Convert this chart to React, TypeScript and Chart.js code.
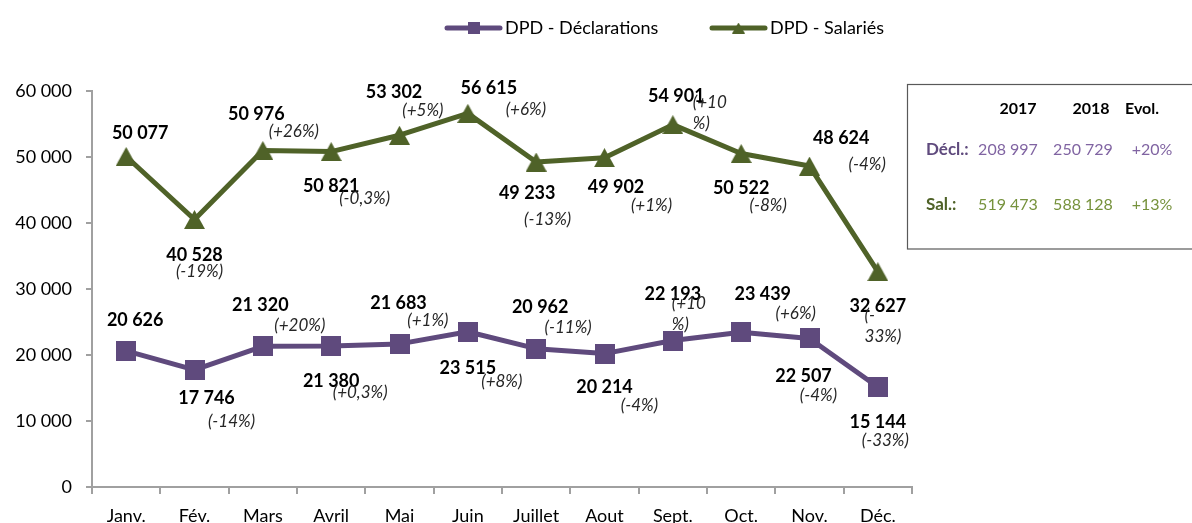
import React, { useEffect, useRef } from 'react';
import { Chart, registerables } from 'chart.js';
Chart.register(...registerables);

// ---- data ----
const months = ['Janv.', 'Fév.', 'Mars', 'Avril', 'Mai', 'Juin', 'Juillet', 'Aout', 'Sept.', 'Oct.', 'Nov.', 'Déc.'];
const declarations = [20626, 17746, 21320, 21380, 21683, 23515, 20962, 20214, 22193, 23439, 22507, 15144];
const salaries = [50077, 40528, 50976, 50821, 53302, 56615, 49233, 49902, 54901, 50522, 48624, 32627];
const declPct = ['', '(-14%)', '(+20%)', '(+0,3%)', '(+1%)', '(+8%)', '(-11%)', '(-4%)', '(+10\n%)', '(+6%)', '(-4%)', '(-33%)'];
const salPct = ['', '(-19%)', '(+26%)', '(-0,3%)', '(+5%)', '(+6%)', '(-13%)', '(+1%)', '(+10\n%)', '(-8%)', '(-4%)', '(-\n33%)'];
const yTicks = [0, 10000, 20000, 30000, 40000, 50000, 60000];

const seriesNames = ['DPD - Déclarations', 'DPD - Salariés'];
const tableHeader = ['2017', '2018', 'Evol.'];
const tableDecl = ['Décl.:', '208 997', '250 729', '+20%'];
const tableSal = ['Sal.:', '519 473', '588 128', '+13%'];

// ---- label placement (pixel offsets from each point) ----
const salValueOffset = [[14, -23.5], [0, 35.5], [-6.5, -36.6], [0, 35], [-5.5, -43], [21, -25], [-9, 31.6], [11.5, 29.5], [3.5, -28.4], [0, 35], [31.7, -27.4], [0, 34.6]];
const salPctOffset = [[0, 0], [5, 52.5], [31, -19], [33.5, 46.7], [23.4, -25], [58, -4], [11.5, 57], [47, 47.7], [20, -21.7], [27, 51.7], [57.7, -2], [-13.3, 44]];
const declValueOffset = [[9, -30.6], [12, 28.8], [-2.5, -41], [0, 34.8], [-1, -40.6], [0, 36], [4, -41], [0, 33.7], [0, -46.5], [21.6, -38], [-6, 38], [0, 35]];
const declPctOffset = [[0, 0], [37, 51.4], [37, -20.6], [29, 47], [28.4, -23.2], [34, 50], [32, -21.4], [35, 52], [-1, -37.2], [54.6, -18.6], [9, 57], [7.5, 53.7]];

const PURPLE = '#5f4a7d';
const GREEN = '#4f6228';
const PURPLE_TXT = '#8064a2';
const GREEN_TXT = '#76923c';
const AXIS = '#a0a0a0';
const FONT = 'Lato, "Noto Sans", sans-serif';

function fmt(v: number): string {
  return String(v).replace(/\B(?=(\d{3})+(?!\d))/g, ' ');
}

function makeSquare(size: number, color: string): HTMLCanvasElement {
  const c = document.createElement('canvas');
  c.width = size; c.height = size;
  const g = c.getContext('2d')!;
  g.fillStyle = color;
  g.fillRect(0, 0, size, size);
  return c;
}

function makeTriangle(w: number, h: number, color: string): HTMLCanvasElement {
  const c = document.createElement('canvas');
  c.width = w; c.height = h;
  const g = c.getContext('2d')!;
  g.fillStyle = color;
  g.beginPath();
  g.moveTo(w / 2, 0);
  g.lineTo(w, h);
  g.lineTo(0, h);
  g.closePath();
  g.fill();
  return c;
}

export default function App() {
  const ref = useRef<HTMLCanvasElement>(null);

  useEffect(() => {
    document.body.style.margin = '0';
    const canvas = ref.current!;
    const sq = makeSquare(20, PURPLE);
    const tri = makeTriangle(21, 19, GREEN);
    const sqSmall = makeSquare(12, PURPLE);
    const triSmall = makeTriangle(13, 11, GREEN);

    const labelPlugin = {
      id: 'pointLabels',
      afterDatasetsDraw(chart: any) {
        const c = chart.ctx as CanvasRenderingContext2D;
        const sets = [
          { idx: 0, values: declarations, pct: declPct, vOff: declValueOffset, pOff: declPctOffset },
          { idx: 1, values: salaries, pct: salPct, vOff: salValueOffset, pOff: salPctOffset },
        ];
        c.save();
        c.textBaseline = 'middle';
        sets.forEach((s) => {
          const meta = chart.getDatasetMeta(s.idx);
          meta.data.forEach((pt: any, i: number) => {
            const x = pt.x, y = pt.y;
            c.font = `bold 18px ${FONT}`;
            c.fillStyle = '#000';
            c.textAlign = 'center';
            c.fillText(fmt(s.values[i]), x + s.vOff[i][0], y + s.vOff[i][1]);
            const txt = s.pct[i];
            if (txt) {
              c.font = `italic 17px ${FONT}`;
              c.fillStyle = '#262626';
              const lines = txt.split('\n');
              if (lines.length === 1) {
                c.textAlign = 'center';
                c.fillText(txt, x + s.pOff[i][0], y + s.pOff[i][1]);
              } else {
                c.textAlign = 'left';
                lines.forEach((ln, k) => c.fillText(ln, x + s.pOff[i][0], y + s.pOff[i][1] + k * 21));
              }
            }
          });
        });
        c.restore();
      },
      afterDraw(chart: any) {
        const c = chart.ctx as CanvasRenderingContext2D;
        c.save();
        // legend
        const items = [
          { x0: 445, color: PURPLE, marker: sqSmall, name: seriesNames[0] },
          { x0: 710, color: GREEN, marker: triSmall, name: seriesNames[1] },
        ];
        const ly = 28;
        items.forEach((it) => {
          c.strokeStyle = it.color;
          c.lineWidth = 5;
          c.lineCap = 'round';
          c.beginPath();
          c.moveTo(it.x0 + 2, ly);
          c.lineTo(it.x0 + 55, ly);
          c.stroke();
          c.drawImage(it.marker, it.x0 + 28.5 - it.marker.width / 2, ly - it.marker.height / 2);
          c.font = `18px ${FONT}`;
          c.fillStyle = '#000';
          c.textAlign = 'left';
          c.textBaseline = 'middle';
          c.fillText(it.name, it.x0 + 60, ly);
        });
        // summary box
        c.strokeStyle = '#595959';
        c.lineWidth = 1.2;
        c.strokeRect(907.5, 84.5, 300, 164.5);
        c.textBaseline = 'middle';
        c.textAlign = 'center';
        c.font = `bold 16px ${FONT}`;
        c.fillStyle = '#000';
        const cols = [1018, 1091, 1142];
        tableHeader.forEach((t, i) => c.fillText(t, cols[i], 109));
        const numCols = [1008, 1083, 1152];
        c.textAlign = 'left';
        c.font = `bold 17px ${FONT}`;
        c.fillStyle = PURPLE;
        c.fillText(tableDecl[0], 926, 150);
        c.fillStyle = GREEN;
        c.fillText(tableSal[0], 926, 205);
        c.textAlign = 'center';
        c.font = `16px ${FONT}`;
        c.fillStyle = PURPLE_TXT;
        tableDecl.slice(1).forEach((t, i) => c.fillText(t, numCols[i], 150));
        c.fillStyle = GREEN_TXT;
        tableSal.slice(1).forEach((t, i) => c.fillText(t, numCols[i], 205));
        c.restore();
      },
    };

    const chart = new Chart(canvas, {
      type: 'line',
      data: {
        labels: months,
        datasets: [
          {
            label: seriesNames[0],
            data: declarations,
            borderColor: PURPLE,
            backgroundColor: PURPLE,
            borderWidth: 5,
            borderJoinStyle: 'round',
            pointStyle: sq as any,
            pointRadius: 10,
            tension: 0,
          },
          {
            label: seriesNames[1],
            data: salaries,
            borderColor: GREEN,
            backgroundColor: GREEN,
            borderWidth: 5,
            borderJoinStyle: 'round',
            pointStyle: tri as any,
            pointRadius: 10,
            tension: 0,
          },
        ],
      },
      options: {
        responsive: false,
        animation: false,
        layout: { padding: { top: 91, right: 280, left: 0, bottom: 0 } },
        plugins: { legend: { display: false }, tooltip: { enabled: false } },
        scales: {
          x: {
            offset: true,
            grid: { display: true, offset: true, drawOnChartArea: false, drawTicks: true, tickLength: 7, color: AXIS, lineWidth: 2 },
            border: { display: true, color: AXIS, width: 2 },
            ticks: { color: '#000', font: { family: FONT, size: 18 }, padding: 11, maxRotation: 0, autoSkip: false },
            afterFit: (s: any) => { s.height = 36; },
          },
          y: {
            min: yTicks[0],
            max: yTicks[yTicks.length - 1],
            afterBuildTicks: (s: any) => { s.ticks = yTicks.map((v) => ({ value: v })); },
            grid: { display: true, drawOnChartArea: false, drawTicks: true, tickLength: 6, color: AXIS, lineWidth: 2 },
            border: { display: true, color: AXIS, width: 2 },
            ticks: { color: '#000', font: { family: FONT, size: 18 }, padding: 14, callback: (v: any) => fmt(Number(v)) },
            afterFit: (s: any) => { s.width = 92; },
          },
        },
      },
      plugins: [labelPlugin],
    });
    return () => chart.destroy();
  }, []);

  return (
    <div style={{ width: 1192, height: 523 }}>
      <canvas ref={ref} width={1192} height={523} style={{ display: 'block' }} />
    </div>
  );
}
